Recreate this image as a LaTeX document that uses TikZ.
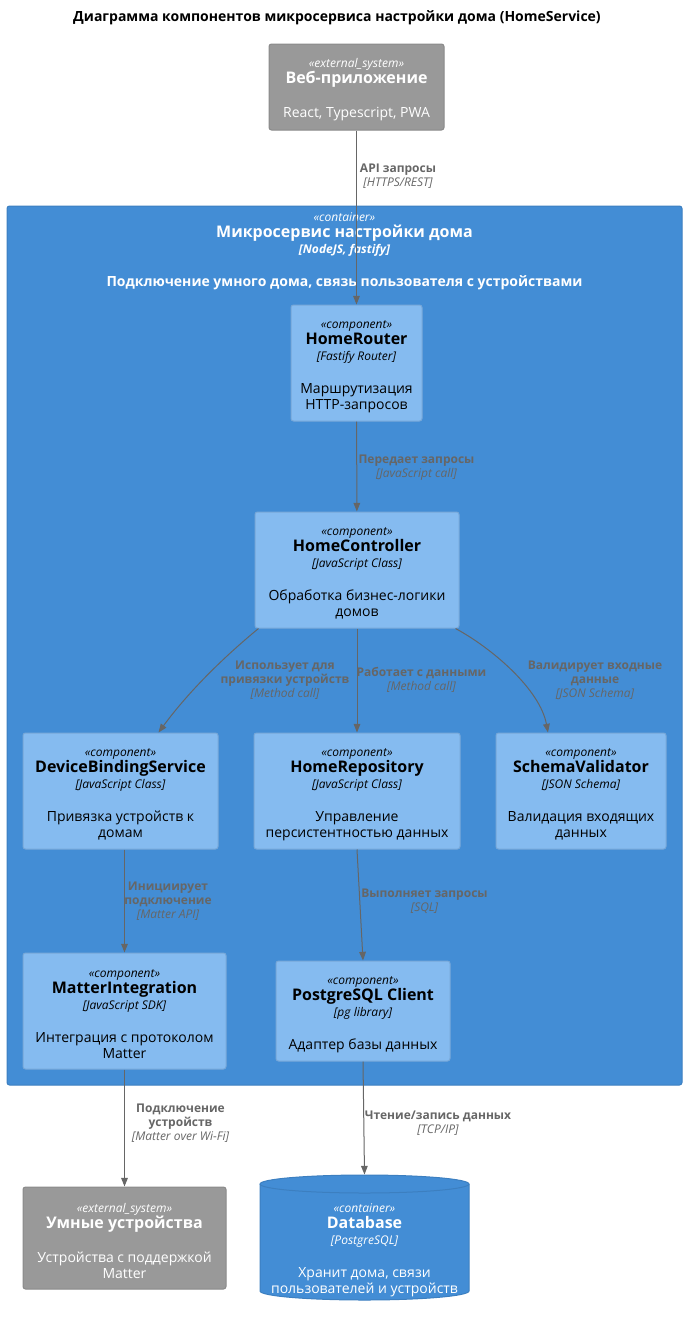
\documentclass[tikz,border=0pt]{standalone}
\usepackage{fontspec}
\setmainfont{Open Sans}
\usetikzlibrary{arrows.meta,calc}

\definecolor{extgray}{HTML}{999999}
\definecolor{extline}{HTML}{8A8A8A}
\definecolor{contblue}{HTML}{438DD5}
\definecolor{contline}{HTML}{3C7FC0}
\definecolor{compblue}{HTML}{85BBF0}
\definecolor{compline}{HTML}{78A8D8}
\definecolor{linkgray}{HTML}{666666}

\newcommand{\pxu}{0.75pt}
\newcommand{\stereo}[1]{{\rule{0pt}{11pt}\fontsize{9}{12}\selectfont\itshape «#1»}}
\newcommand{\cname}[1]{{\fontsize{12}{12}\selectfont\bfseries #1}}
\newcommand{\techn}[1]{{\fontsize{9}{12}\selectfont\itshape [#1]}}
\newcommand{\lbltech}[1]{{\mdseries\itshape [#1]}}

\begin{document}
\begin{tikzpicture}[x=0.75pt,y=-0.75pt,
    box/.style={rectangle, rounded corners=1.9pt, line width=0.75pt, align=center, inner sep=2pt, font=\fontsize{10.5}{12}\selectfont},
    comp/.style={box, fill=compblue, draw=compline, text=black},
    ext/.style={box, fill=extgray, draw=extline, text=white},
    link/.style={draw=linkgray, line width=0.75pt, -{Triangle[length=6.5pt,width=5pt]}},
    lbl/.style={align=center, text=linkgray, inner sep=1pt, font=\fontsize{9}{10.5}\selectfont\bfseries}]
    \useasboundingbox (0,0) rectangle (687,1317);

    \draw (337,18) node[font=\fontsize{10.5}{12}\selectfont\bfseries](title) {Диаграмма компонентов микросервиса настройки дома (HomeService)};

    \draw (344.5,645.5) node[rectangle, rounded corners=1.9pt, fill=contblue, draw=contline, line width=0.75pt, minimum width=675*\pxu, minimum height=879*\pxu](svc) {};
    \draw (344.5,248) node[box, text=white](svclbl) {\stereo{container}\\ \cname{Микросервис настройки дома}\\ {\fontsize{9}{12}\selectfont\bfseries\itshape [NodeJS, fastify]}\\[12.75pt] \textbf{Подключение умного дома, связь пользователя с устройствами}};

    \draw (356.5,87) node[ext, minimum width=175*\pxu, minimum height=86*\pxu](web) {\stereo{external\_system}\\ \cname{Веб-приложение}\\[13.5pt] React, Typescript, PWA};

    \draw (356.5,363) node[comp, minimum width=131*\pxu, minimum height=116*\pxu](router) {\stereo{component}\\ \cname{HomeRouter}\\ \techn{Fastify Router}\\[12.75pt] Маршрутизация\\ HTTP-запросов};
    \draw (357,570) node[comp, minimum width=204*\pxu, minimum height=116*\pxu](ctrl) {\stereo{component}\\ \cname{HomeController}\\ \techn{JavaScript Class}\\[12.75pt] Обработка бизнес-логики\\ домов};

    \draw (120.5,791) node[comp, minimum width=195*\pxu, minimum height=116*\pxu](dbs) {\stereo{component}\\ \cname{DeviceBindingService}\\ \techn{JavaScript Class}\\[12.75pt] Привязка устройств к\\ домам};
    \draw (357,791) node[comp, minimum width=206*\pxu, minimum height=116*\pxu](repo) {\stereo{component}\\ \cname{HomeRepository}\\ \techn{JavaScript Class}\\[12.75pt] Управление\\ персистентностью данных};
    \draw (581,791) node[comp, minimum width=170*\pxu, minimum height=116*\pxu](val) {\stereo{component}\\ \cname{SchemaValidator}\\ \techn{JSON Schema}\\[12.75pt] Валидация входящих\\ данных};

    \draw (124.5,1011) node[comp, minimum width=203*\pxu, minimum height=116*\pxu](matter) {\stereo{component}\\ \cname{MatterIntegration}\\ \techn{JavaScript SDK}\\[12.75pt] Интеграция с протоколом\\ Matter};
    \draw (363,1011) node[comp, minimum width=174*\pxu, minimum height=100*\pxu](pg) {\stereo{component}\\ \cname{PostgreSQL Client}\\ \techn{pg library}\\[12.75pt] Адаптер базы данных};

    \draw (124.5,1238) node[ext, minimum width=203*\pxu, minimum height=102*\pxu](smart) {\stereo{external\_system}\\ \cname{Умные устройства}\\[13.5pt] Устройства с поддержкой\\ Matter};

    \filldraw[fill=contblue, draw=contline, line width=0.75pt] (260,1184) -- (260,1291) arc[start angle=180, end angle=360, x radius=78.375pt, y radius=6.75pt] -- (469,1184) arc[start angle=0, end angle=180, x radius=78.375pt, y radius=6.75pt] -- cycle;
    \draw[contline, line width=0.75pt] (260,1184) arc[start angle=180, end angle=360, x radius=78.375pt, y radius=6.75pt];
    \draw (364.5,1247.5) node[box, text=white, minimum width=209*\pxu, minimum height=145*\pxu](db) {\stereo{container}\\ \cname{Database}\\ \techn{PostgreSQL}\\[12.75pt] Хранит дома, связи\\ пользователей и устройств};

    \draw[link] (web) -- (router);
    \draw[link] (router) -- (ctrl);
    \draw[link] ($(ctrl.south west)+(4,0)$) .. controls +(-34,28) and +(31,-42) .. ($(dbs.north)+(38,0)$);
    \draw[link] (ctrl) -- (repo);
    \draw[link] ($(ctrl.south east)+(-4,0)$) .. controls +(37,20) and +(-8,-43) .. ($(val.north)+(-33,0)$);
    \draw[link] (matter.north |- dbs.south) -- (matter.north);
    \draw[link] (repo.south) -- (pg.north);
    \draw[link] (matter) -- (smart);
    \draw[link] (pg.south) -- (db.north);

    \draw (398,176) node[lbl](lapi) {API запросы\\ \lbltech{HTTPS/REST}};
    \draw (416.5,468) node[lbl](lpass) {Передает запросы\\ \lbltech{JavaScript call}};
    \draw (285,680) node[lbl](lbind) {Использует для\\ привязки устройств\\ \lbltech{Method call}};
    \draw (421.5,680) node[lbl](ldata) {Работает с данными\\ \lbltech{Method call}};
    \draw (595,680) node[lbl](lvalid) {Валидирует входные\\ данные\\ \lbltech{JSON Schema}};
    \draw (168,901) node[lbl](linit) {Инициирует\\ подключение\\ \lbltech{Matter API}};
    \draw (424.5,901.5) node[lbl](lsql) {Выполняет запросы\\ \lbltech{SQL}};
    \draw (180.5,1123.5) node[lbl](lconn) {Подключение\\ устройств\\ \lbltech{Matter over Wi-Fi}};
    \draw (438,1123) node[lbl](lrw) {Чтение/запись данных\\ \lbltech{TCP/IP}};
\end{tikzpicture}
\end{document}
